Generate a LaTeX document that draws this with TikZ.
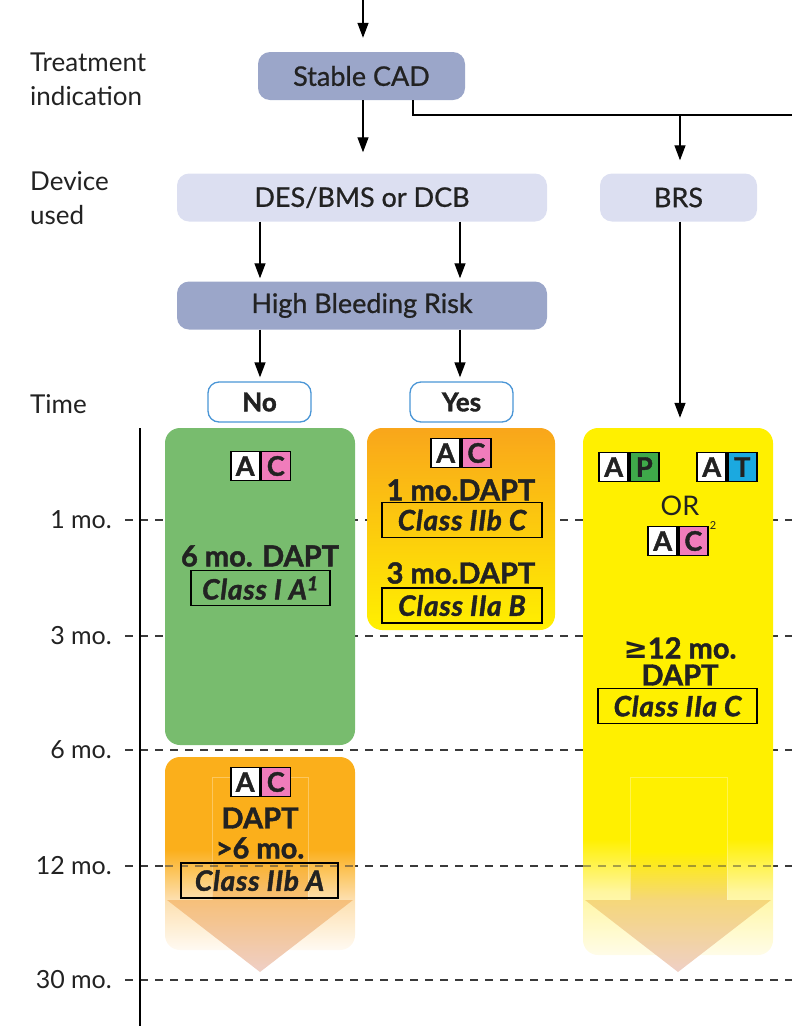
\documentclass[tikz,border=0pt]{standalone}
\usepackage{fontspec}
\setmainfont{Lato}[BoldFeatures={FakeBold=1.5}, BoldItalicFeatures={FakeBold=1.5}]
\newfontfamily\mediumface{Lato}[FakeBold=0.8]
\newfontfamily\symfont{DejaVu Sans}
\usetikzlibrary{arrows.meta}

\newcommand{\fsz}[1]{\fontsize{#1}{#1}\selectfont}

\definecolor{txt}{HTML}{222222}
\definecolor{boxdark}{HTML}{9BA6C9}
\definecolor{boxlight}{HTML}{DCDFF1}
\definecolor{ansblue}{HTML}{4A96D6}
\definecolor{greenB}{HTML}{78BC6E}
\definecolor{orangeB}{HTML}{FBAF1B}
\definecolor{orangeT}{HTML}{F9A61B}
\definecolor{orangeM}{HTML}{FFD20C}
\definecolor{yellowB}{HTML}{FFF000}
\definecolor{yellowL}{HTML}{FFF6A0}
\definecolor{yellowP}{HTML}{FFFCE8}
\definecolor{orangeL}{HTML}{FDE0B0}
\definecolor{orangeP}{HTML}{FFFAF2}
\definecolor{headO}{HTML}{F6C07A}
\definecolor{headY}{HTML}{F5D77A}
\definecolor{tipP}{HTML}{EFCFC6}
\definecolor{pinkC}{HTML}{F07CBB}
\definecolor{greenP}{HTML}{3FA94A}
\definecolor{cyanT}{HTML}{1BA9E0}
\definecolor{gridc}{HTML}{3A3A3A}

% vertical shadings: 25bp = bottom of the path, 75bp = top
\pgfdeclareverticalshading{brsfade}{100bp}{color(0bp)=(yellowP); color(25bp)=(yellowP); color(31bp)=(yellowL); color(36bp)=(yellowB); color(100bp)=(yellowB)}
\pgfdeclareverticalshading{orfade}{100bp}{color(0bp)=(orangeP); color(25bp)=(orangeP); color(38bp)=(orangeL); color(51bp)=(orangeB); color(100bp)=(orangeB)}
\pgfdeclareverticalshading{arrowO}{100bp}{color(0bp)=(tipP); color(25bp)=(tipP); color(43.5bp)=(headO); color(56bp)=(orangeB); color(100bp)=(orangeB)}
\pgfdeclareverticalshading{arrowY}{100bp}{color(0bp)=(tipP); color(25bp)=(tipP); color(43.5bp)=(headY); color(56bp)=(yellowB); color(100bp)=(yellowB)}

\tikzset{
  flowbox/.style={rounded corners=12pt, minimum height=48pt, inner sep=0pt, font=\mediumface\fsz{27}, text=txt},
  darkbox/.style={flowbox, fill=boxdark},
  lightbox/.style={flowbox, fill=boxlight},
  answer/.style={rounded corners=11pt, draw=ansblue, line width=1.3pt, fill=white,
    minimum width=103pt, minimum height=40pt, inner sep=0pt, font=\fsz{26}\bfseries, text=txt},
  rowlabel/.style={anchor=west, align=left, inner sep=0pt, font=\fontsize{26}{34}\selectfont, text=txt},
  ticklabel/.style={anchor=east, inner sep=0pt, font=\fsz{25}, text=txt},
  arr/.style={-{Triangle[length=15pt,width=11pt]}, line width=1.3pt},
  plain/.style={line width=1.3pt},
  axisline/.style={line width=1.3pt},
  gridline/.style={draw=gridc, line width=1.6pt, dash pattern=on 8pt off 7pt},
  colbox/.style={rounded corners=15pt, inner sep=0pt},
  ghost/.style={draw=white, draw opacity=0.3, line width=0.8pt},
  dose/.style={font=\fsz{29}\bfseries, text=txt, inner sep=0pt},
  orword/.style={font=\fsz{27}, text=txt, inner sep=0pt},
  classbox/.style={draw=black, line width=1.4pt, minimum height=35pt, inner sep=0pt,
    font=\fsz{28}\bfseries\itshape\addfontfeature{LetterSpace=3}, text=txt},
  badge/.style={draw=black, line width=1.6pt, minimum size=29pt, inner sep=0pt,
    font=\fsz{27}\bfseries, text=txt},
}

% two-letter drug badge: name, centre, second letter, colour of second square
\newcommand{\drugpair}[4]{%
  \node[badge, fill=white, anchor=east] (#1-a) at (#2) {A};
  \node[badge, fill=#4, anchor=west] (#1-b) at (#2) {#3};}

\begin{document}
\begin{tikzpicture}[x=1pt,y=-1pt]
\useasboundingbox (0,0) rectangle (792,1026);

% row headings
\node[rowlabel] (lblTreat) at (30,79) {Treatment\\indication};
\node[rowlabel] (lblDevice) at (30,198) {Device\\used};
\node[rowlabel] (lblTime) at (30,404) {Time};

% time axis with month grid
\coordinate (axTop) at (140,428);
\coordinate (axBot) at (140,1026);
\foreach \y/\t in {520/1 mo., 636/3 mo., 750/6 mo., 866/12 mo., 980/30 mo.}{
  \node[ticklabel] (tick\y) at (112,\y) {\t};
  \coordinate (gridEnd\y) at (792,\y);
  \draw[gridline] ([xshift=13pt]tick\y.east) -- (gridEnd\y);
}
\draw[axisline] (axTop) -- (axBot);

% flow boxes
\coordinate (entry) at (363,0);
\node[darkbox, minimum width=207pt] (cad) at (361.5,76) {Stable CAD};
\node[lightbox, minimum width=370pt] (des) at (362,197.5) {DES/BMS or DCB};
\node[lightbox, minimum width=157pt] (brs) at (678.5,197.5) {BRS};
\node[darkbox, minimum width=370pt] (hbr) at (362,305.5) {High Bleeding Risk};
\node[answer] (no) at (259.5,402) {No};
\node[answer] (yes) at (461.5,402) {Yes};

% regimen columns
\node[colbox, fill=greenB, minimum width=190pt, minimum height=317pt] (grn) at (260,586.5) {};
\node[colbox, top color=orangeT, middle color=orangeM, bottom color=yellowB,
  minimum width=188pt, minimum height=202pt] (yesbox) at (461,529) {};
\node[colbox, shade, shading=brsfade, minimum width=190pt, minimum height=527pt] (brsbox) at (678,691.5) {};
\node[colbox, shade, shading=orfade, minimum width=190pt, minimum height=193pt] (ext) at (260,853.5) {};

% open-ended duration arrows
\path[shade, shading=arrowO] (212,777) -- (308,777) -- (308,900) -- (353,900) -- (260,972) -- (167,900) -- (212,900) -- cycle;
\draw[ghost] (212,900) -- (212,777) -- (308,777) -- (308,900);
\path[shade, shading=arrowY] (630,777) -- (727,777) -- (727,900) -- (771,900) -- (678,972) -- (585,900) -- (630,900) -- cycle;
\draw[ghost] (630,900) -- (630,777) -- (727,777) -- (727,900);

% 12-month line shows through the faded ends
\draw[gridline, draw opacity=0.55] (ext.west |- tick866) -- (ext.east |- tick866);
\draw[gridline, draw opacity=0.45] (brsbox.west |- tick866) -- (brsbox.east |- tick866);

% connectors
\draw[arr, shorten >=14pt] (entry) -- (entry |- cad.north);
\draw[arr, shorten >=21pt] (cad.south -| entry) -- (des.north -| entry);
\coordinate (split) at (413,115);
\coordinate (rim) at (792,115);
\draw[plain] (cad.south -| split) |- (rim);
\coordinate (laneBrs) at (680,0);
\draw[arr, shorten >=13pt] (split -| laneBrs) -- (brs.north -| laneBrs);
\coordinate (laneNo) at (260,0);
\coordinate (laneYes) at (460,0);
\draw[arr, shorten >=3pt] (des.south -| laneNo) -- (hbr.north -| laneNo);
\draw[arr, shorten >=3pt] (des.south -| laneYes) -- (hbr.north -| laneYes);
\draw[arr, shorten >=4pt] (hbr.south -| laneNo) -- (no.north -| laneNo);
\draw[arr, shorten >=4pt] (hbr.south -| laneYes) -- (yes.north -| laneYes);
\draw[arr, shorten >=10pt] (brs.south -| laneBrs) -- (brsbox.north -| laneBrs);

% no high bleeding risk
\drugpair{g}{260.5,466}{C}{pinkC}
\node[dose] (gDose) at (260,556) {6 mo. DAPT};
\node[classbox, minimum width=139pt] (gClass) at (260.5,588) {Class I A\textsuperscript{1}};

% high bleeding risk
\drugpair{y}{461,453}{C}{pinkC}
\node[dose] (yDose1) at (461,490) {1 mo.DAPT};
\node[classbox, minimum width=160pt] (yClass1) at (462,520) {Class IIb C};
\node[dose] (yDose3) at (461,573) {3 mo.DAPT};
\node[classbox, minimum width=160pt] (yClass3) at (462,605.5) {Class IIa B};

% bioresorbable scaffold
\drugpair{p}{629,467}{P}{greenP}
\drugpair{t}{727,467}{T}{cyanT}
\node[orword] (orw) at (680,506) {OR};
\drugpair{c}{678,541}{C}{pinkC}
\node[font=\fsz{11}, text=txt, inner sep=0pt] (sup2) at (713,526) {2};
\node[dose] (bDose) at (680,648) {{\symfont\bfseries ≥}12 mo.};
\node[dose] (bDapt) at (680,675) {DAPT};
\node[classbox, minimum width=159pt] (bClass) at (677.5,706) {Class IIa C};

% extended therapy
\drugpair{o}{260.5,782}{C}{pinkC}
\node[dose] (oDapt) at (260,818) {DAPT};
\node[dose] (oDose) at (260,848) {>6 mo.};
\node[classbox, minimum width=157pt] (oClass) at (259.5,880.5) {Class IIb A};

\end{tikzpicture}
\end{document}
